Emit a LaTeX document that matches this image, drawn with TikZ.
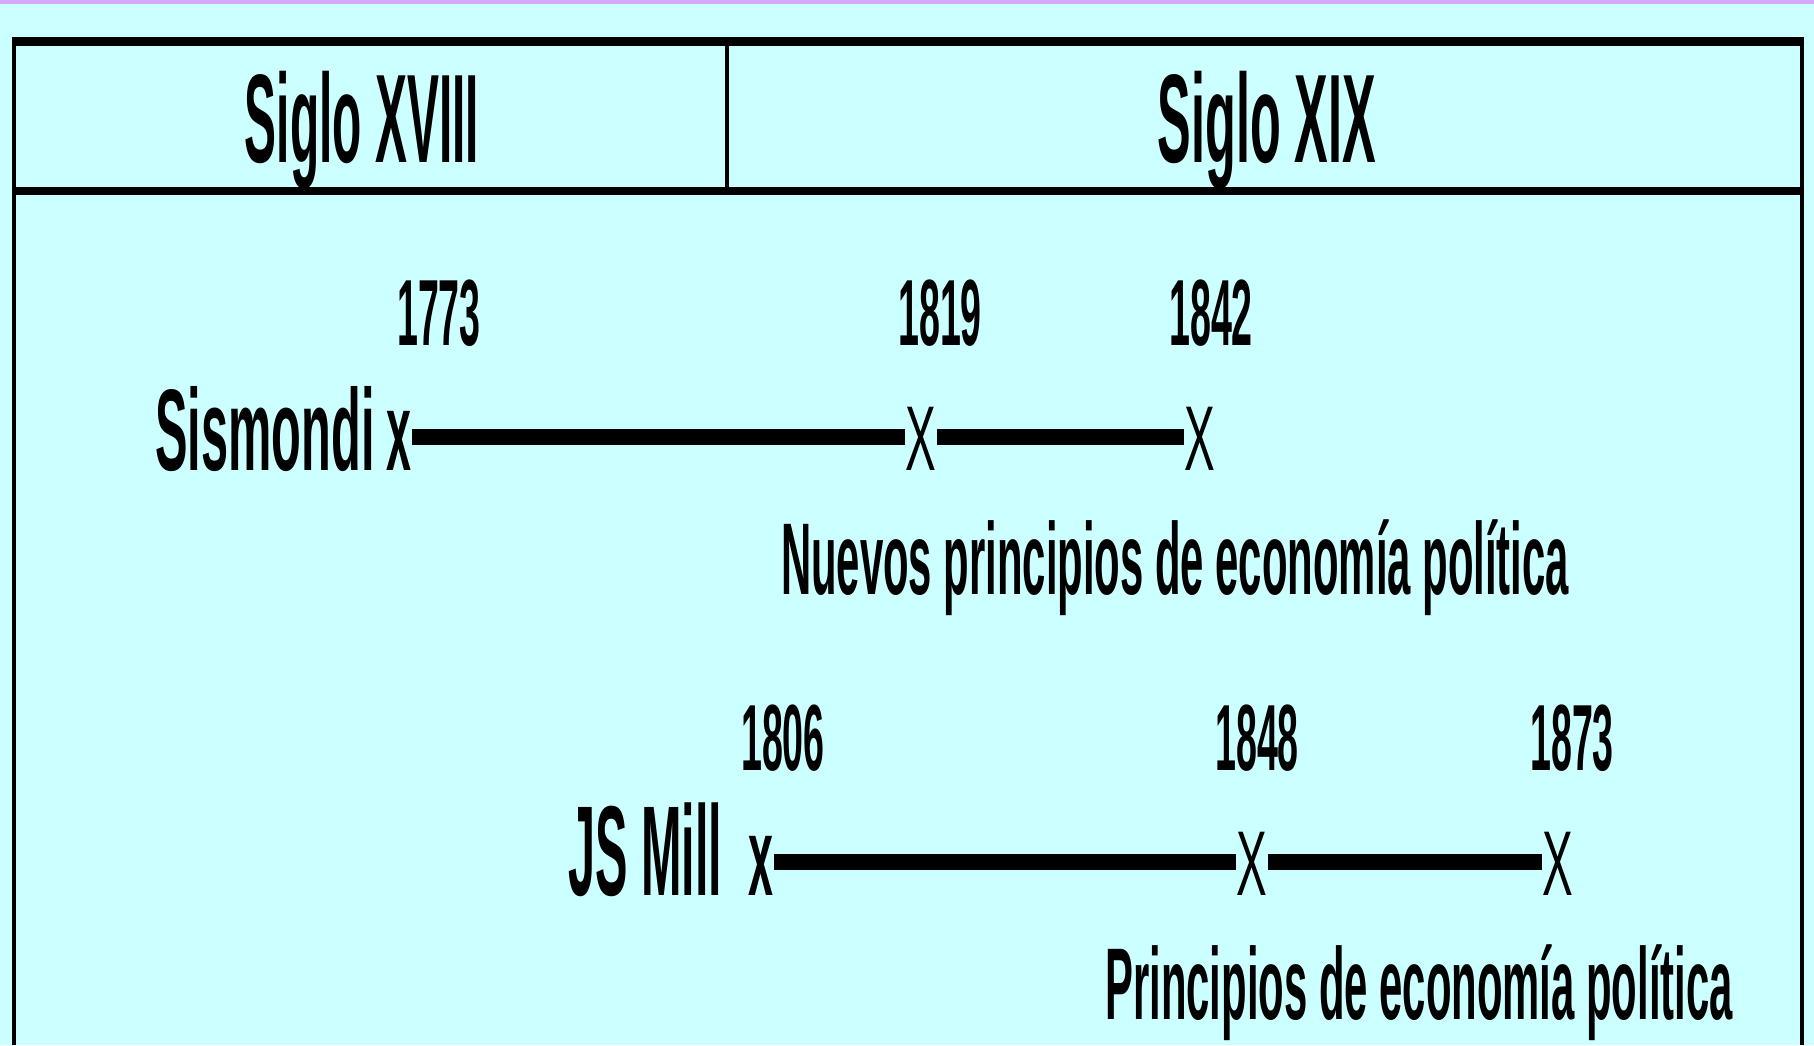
\documentclass[tikz,border=0pt]{standalone}
\usepackage{fontspec}
\setmainfont{Liberation Sans}
\usepackage{graphicx}
\definecolor{bg}{RGB}{204, 255, 255}
\definecolor{strip}{RGB}{212, 168, 250}
\newcommand{\narrowtxt}[2][0.4]{\scalebox{#1}[1]{#2}}

\begin{document}
\begin{tikzpicture}[scale=0.5,
  every node/.style={inner sep=0pt},
  head/.style={anchor=base, font=\fontsize{63}{70}\selectfont\bfseries},
  yr/.style={anchor=base, font=\fontsize{47}{52}\selectfont\bfseries},
  who/.style={anchor=base west, font=\fontsize{58}{64}\selectfont\bfseries},
  work/.style={anchor=base, font=\fontsize{51}{56}\selectfont\bfseries},
  xmk/.style={anchor=base, text height=33pt, text depth=0pt},
  xlow/.style={xmk, font=\fontsize{56}{60}\selectfont\bfseries},
  xup/.style={xmk, font=\fontsize{46}{50}\selectfont}]
\useasboundingbox (0pt, 0pt) rectangle (1814pt, -1045pt);
\fill [bg] (0pt, 0pt) rectangle (1814pt, -1045pt);
\fill [strip] (0pt, 0pt) rectangle (1814pt, -4pt);
\draw [line width=4.5pt] (12pt, -41.5pt) -- (1804pt, -41.5pt);
\draw [line width=4pt] (12pt, -191pt) -- (1804pt, -191pt);
\draw [line width=2pt] (14pt, -37pt) -- (14pt, -1045pt);
\draw [line width=2pt] (1802pt, -37pt) -- (1802pt, -1045pt);
\draw [line width=2pt] (727pt, -41pt) -- (727pt, -191pt);
\node (1) [head] at (362pt, -162pt) {\narrowtxt[0.38]{Siglo XVIII}};
\node (2) [head] at (1267pt, -162pt) {\narrowtxt{Siglo XIX}};
\node (3) [yr] at (439pt, -345pt) {\narrowtxt{1773}};
\node (4) [yr] at (940pt, -345pt) {\narrowtxt{1819}};
\node (5) [yr] at (1211pt, -345pt) {\narrowtxt{1842}};
\node (6) [who] at (155pt, -470pt) {\narrowtxt[0.42]{Sismondi}};
\node (7) [xlow] at (399pt, -470pt) {\narrowtxt{x}};
\node (8) [xup] at (921pt, -470pt) {\narrowtxt[0.5]{X}};
\node (9) [xup] at (1200pt, -470pt) {\narrowtxt[0.5]{X}};
\node (10) [work] at (1175pt, -594pt) {\narrowtxt[0.41]{Nuevos principios de economía política}};
\node (11) [yr] at (783pt, -770pt) {\narrowtxt{1806}};
\node (12) [yr] at (1257pt, -770pt) {\narrowtxt{1848}};
\node (13) [yr] at (1572pt, -770pt) {\narrowtxt{1873}};
\node (14) [who, font=\fontsize{64}{70}\selectfont\bfseries] at (568pt, -895pt) {\narrowtxt[0.38]{JS Mill}};
\node (15) [xlow] at (761pt, -895pt) {\narrowtxt{x}};
\node (16) [xup] at (1252pt, -895pt) {\narrowtxt[0.5]{X}};
\node (17) [xup] at (1558pt, -895pt) {\narrowtxt[0.5]{X}};
\node (18) [work] at (1419pt, -1019pt) {\narrowtxt[0.41]{Principios de economía política}};
\draw [line width=8.25pt] (7) -- (8);
\draw [line width=8.25pt] (8) -- (9);
\draw [line width=8.25pt] (15) -- (16);
\draw [line width=8.25pt] (16) -- (17);
\end{tikzpicture}
\end{document}
